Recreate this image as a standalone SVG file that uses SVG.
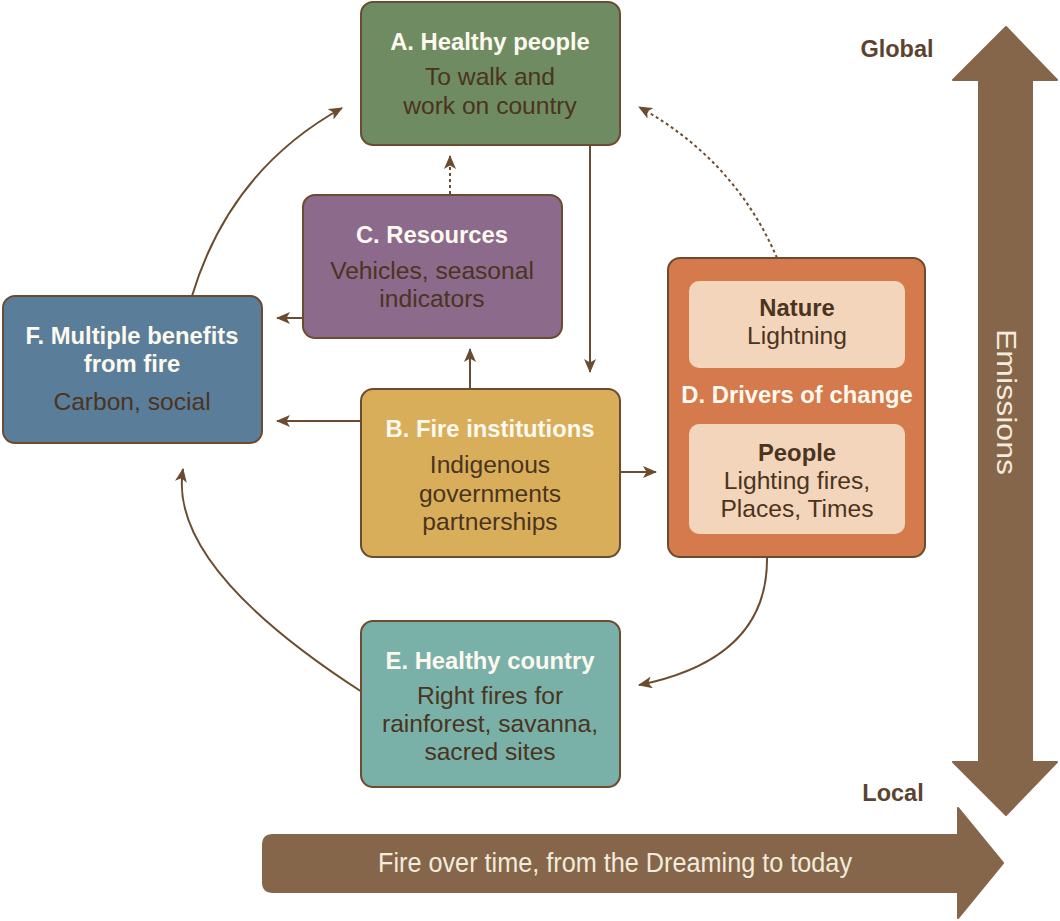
<svg xmlns="http://www.w3.org/2000/svg" width="1060" height="921" viewBox="0 0 1060 921">
  <defs>
    <style>
      .box { stroke: #6b4c30; stroke-width: 2; }
      .title { font-family: "Liberation Sans", Arial, sans-serif; font-weight: bold; font-size: 23.8px; fill: #fdf9ef; text-anchor: middle; }
      .body { font-family: "Liberation Sans", Arial, sans-serif; font-size: 24.6px; fill: #4a3420; text-anchor: middle; }
      .sub { font-family: "Liberation Sans", Arial, sans-serif; font-weight: bold; font-size: 23.8px; fill: #4a3420; text-anchor: middle; }
      .scale { font-family: "Liberation Sans", Arial, sans-serif; font-weight: bold; font-size: 23.5px; fill: #5a4430; text-anchor: middle; }
      .band { font-family: "Liberation Sans", Arial, sans-serif; font-size: 27px; fill: #f3ebdc; text-anchor: middle; }
      .link { fill: none; stroke: #6b4c30; stroke-width: 2; }
      .dotted { stroke-dasharray: 3 3; }
      .bigarrow { fill: #86664a; stroke: #86664a; stroke-width: 2; stroke-linejoin: round; }
    </style>
    <marker id="head" viewBox="0 0 14 12" refX="13" refY="6" markerWidth="14" markerHeight="12" markerUnits="userSpaceOnUse" orient="auto">
      <path d="M0,0 L14,6 L0,12 L3.5,6 Z" fill="#6b4c30"/>
    </marker>
  </defs>

  <rect width="1060" height="921" fill="#ffffff"/>

  <!-- scale arrows -->
  <g id="emissions-axis">
    <path class="bigarrow" d="M1006,27 L1057,80 H1032 V762 H1057 L1006,815 L953,762 H979 V80 H953 Z"/>
    <text class="band" transform="translate(997,402) rotate(90)" textLength="146" lengthAdjust="spacingAndGlyphs">Emissions</text>
    <text class="scale" x="897" y="57">Global</text>
    <text class="scale" x="893" y="801">Local</text>
  </g>
  <g id="time-axis">
    <path class="bigarrow" d="M273,835 H958 V808 L1003,863 L958,918 V892 H273 Q263,892 263,882 V845 Q263,835 273,835 Z"/>
    <text class="band" x="615" y="872" textLength="474" lengthAdjust="spacingAndGlyphs">Fire over time, from the Dreaming to today</text>
  </g>

  <!-- connectors -->
  <g id="connectors" marker-end="url(#head)">
    <path class="link" d="M590,146 V372"/>
    <path class="link dotted" d="M450,194 V156"/>
    <path class="link" d="M470,388 V349"/>
    <path class="link" d="M303,318 H277"/>
    <path class="link" d="M361,421 H277"/>
    <path class="link" d="M621,472 H656"/>
    <path class="link" d="M192,296 Q230,170 342,108"/>
    <path class="link dotted" d="M777,258 Q735,160 639,107"/>
    <path class="link" d="M767,558 Q768,659 639,685"/>
    <path class="link" d="M362,692 Q167,566 183,469"/>
  </g>

  <!-- A -->
  <g id="node-a">
    <rect class="box" x="361" y="2" width="259" height="143" rx="12" fill="#6f8b62"/>
    <text class="title" x="490" y="50">A. Healthy people</text>
    <text class="body" x="490" y="85">To walk and</text>
    <text class="body" x="490" y="114">work on country</text>
  </g>

  <!-- C -->
  <g id="node-c">
    <rect class="box" x="303" y="195" width="259" height="143" rx="12" fill="#8b6a8b"/>
    <text class="title" x="432" y="243">C. Resources</text>
    <text class="body" x="432" y="279">Vehicles, seasonal</text>
    <text class="body" x="432" y="307">indicators</text>
  </g>

  <!-- F -->
  <g id="node-f">
    <rect class="box" x="3" y="296" width="259" height="147" rx="12" fill="#5a7d99"/>
    <text class="title" x="132" y="344">F. Multiple benefits</text>
    <text class="title" x="132" y="372">from fire</text>
    <text class="body" x="132" y="410">Carbon, social</text>
  </g>

  <!-- B -->
  <g id="node-b">
    <rect class="box" x="361" y="389" width="259" height="168" rx="12" fill="#d9ae5a"/>
    <text class="title" x="490" y="437">B. Fire institutions</text>
    <text class="body" x="490" y="473">Indigenous</text>
    <text class="body" x="490" y="502">governments</text>
    <text class="body" x="490" y="530">partnerships</text>
  </g>

  <!-- D -->
  <g id="node-d">
    <rect class="box" x="668" y="258" width="257" height="299" rx="12" fill="#d47a4c"/>
    <rect x="689" y="281" width="216" height="87" rx="10" fill="#f3d5bb"/>
    <text class="sub" x="797" y="316">Nature</text>
    <text class="body" x="797" y="344">Lightning</text>
    <text class="title" x="797" y="403">D. Drivers of change</text>
    <rect x="689" y="424" width="216" height="110" rx="10" fill="#f3d5bb"/>
    <text class="sub" x="797" y="461">People</text>
    <text class="body" x="797" y="489">Lighting fires,</text>
    <text class="body" x="797" y="517">Places, Times</text>
  </g>

  <!-- E -->
  <g id="node-e">
    <rect class="box" x="361" y="621" width="259" height="166" rx="12" fill="#79b1a9"/>
    <text class="title" x="490" y="669">E. Healthy country</text>
    <text class="body" x="490" y="704">Right fires for</text>
    <text class="body" x="490" y="732">rainforest, savanna,</text>
    <text class="body" x="490" y="760">sacred sites</text>
  </g>
</svg>
